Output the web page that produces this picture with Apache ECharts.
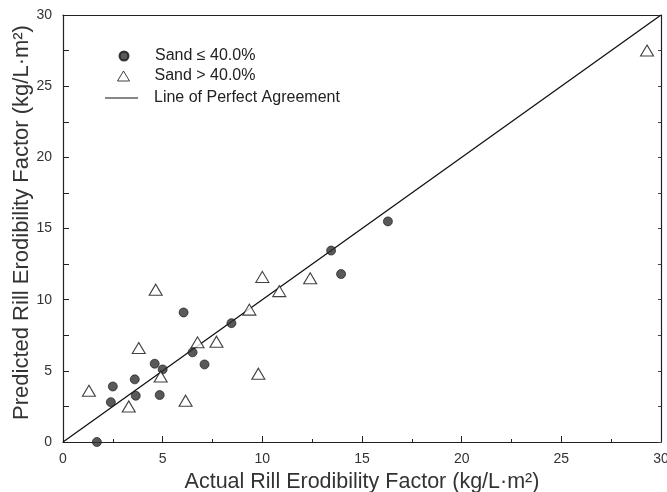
<!DOCTYPE html>
<html>
<head>
<meta charset="utf-8">
<script src="https://cdn.jsdelivr.net/npm/echarts@6/dist/echarts.min.js"></script>
<style>
html,body{margin:0;padding:0;background:#fff;}
#chart{width:667px;height:492px;}
</style>
</head>
<body>
<div id="chart"></div>
<script>
// Sand <= 40.0% (filled circles)
const sandLowX = [1.7, 2.4, 2.5, 3.6, 3.65, 4.6, 5.0, 4.85, 6.05, 6.5, 7.1, 8.45, 13.45, 13.95, 16.3];
const sandLowY = [0.0, 2.8, 3.9, 4.4, 3.25, 5.5, 5.1, 3.3, 9.1, 6.3, 5.45, 8.35, 13.45, 11.8, 15.5];
// Sand > 40.0% (open triangles)
const sandHighX = [1.3, 3.3, 3.8, 4.65, 4.9, 6.15, 6.75, 7.7, 9.35, 9.8, 10.0, 10.85, 12.4, 29.3];
const sandHighY = [3.6, 2.5, 6.6, 10.7, 4.6, 2.9, 7.0, 7.05, 9.3, 4.8, 11.6, 10.6, 11.5, 27.5];
// Line of perfect agreement
const lineX = [0, 30];
const lineY = [0, 30];
const ticks = [0, 5, 10, 15, 20, 25, 30];

const seriesNames = ['Sand \u2264 40.0%', 'Sand > 40.0%', 'Line of Perfect Agreement'];
const xTitle = 'Actual Rill Erodibility Factor (kg/L\u00b7m\u00b2)';
const yTitle = 'Predicted Rill Erodibility Factor (kg/L\u00b7m\u00b2)';

const zip = (a, b) => a.map((v, i) => [v, b[i]]);
const FONT = '"Liberation Sans", Arial, Helvetica, sans-serif';

const chart = echarts.init(document.getElementById('chart'), null, {renderer: 'canvas'});

const baseAxis = {
  min: ticks[0], max: ticks[ticks.length - 1], interval: 5,
  axisLine: {show: true, onZero: false, lineStyle: {color: '#222', width: 1.2}},
  splitLine: {show: false}
};

chart.setOption({
  backgroundColor: '#fff',
  animation: false,
  grid: {left: 63, right: 6, top: 15, bottom: 50, containLabel: false, outerBoundsMode: 'none'},
  legend: [
    {data: [{name: seriesNames[0], icon: 'circle'}], left: 118.5, top: 48, padding: 0, itemWidth: 9, itemHeight: 9,
     textStyle: {fontFamily: FONT, fontSize: 16, color: '#222', padding: [0, 0, 0, 21.5]}},
    {data: [{name: seriesNames[1], icon: 'triangle', itemStyle: {borderWidth: 1}}], left: 117, top: 68, padding: 0, itemWidth: 12, itemHeight: 10,
     textStyle: {fontFamily: FONT, fontSize: 16, color: '#222', padding: [0, 0, 0, 20]}},
    {data: [{name: seriesNames[2], icon: 'rect'}], left: 105, top: 90, padding: 0, itemWidth: 33, itemHeight: 1.2,
     textStyle: {fontFamily: FONT, fontSize: 16, color: '#222', padding: [0, 0, 0, 11]}}
  ],
  xAxis: [
    Object.assign({}, baseAxis, {
      type: 'value', position: 'bottom',
      name: xTitle, nameLocation: 'middle', nameGap: 29, nameMoveOverlap: false,
      nameTextStyle: {fontFamily: FONT, fontSize: 21.5, color: '#333'},
      axisTick: {show: true, inside: true, length: 6, lineStyle: {color: '#222'}},
      minorTick: {show: true, splitNumber: 2, length: 3, lineStyle: {color: '#222'}},
      axisLabel: {show: true, margin: 10, fontFamily: FONT, fontSize: 14, color: '#333'}
    }),
    Object.assign({}, baseAxis, {
      type: 'value', position: 'top',
      axisTick: {show: false}, axisLabel: {show: false}
    })
  ],
  yAxis: [
    Object.assign({}, baseAxis, {
      type: 'value', position: 'left',
      name: yTitle, nameLocation: 'middle', nameGap: 30, nameMoveOverlap: false,
      nameTextStyle: {fontFamily: FONT, fontSize: 22, color: '#333', padding: [0, 0, 0, 12]},
      axisTick: {show: true, inside: true, length: 6, lineStyle: {color: '#222'}},
      minorTick: {show: true, splitNumber: 2, length: 6, lineStyle: {color: '#222'}},
      axisLabel: {show: true, margin: 11, fontFamily: FONT, fontSize: 14, color: '#333'}
    }),
    Object.assign({}, baseAxis, {
      type: 'value', position: 'right',
      axisTick: {show: true, inside: true, length: 3, lineStyle: {color: '#444'}},
      minorTick: {show: true, splitNumber: 2, length: 3, lineStyle: {color: '#444'}},
      axisLabel: {show: false}
    })
  ],
  series: [
    {
      name: seriesNames[2], type: 'line', data: zip(lineX, lineY),
      symbol: 'none', z: 1,
      lineStyle: {color: '#111', width: 1.3},
      itemStyle: {color: '#111'}
    },
    {
      name: seriesNames[0], type: 'scatter', data: zip(sandLowX, sandLowY),
      symbol: 'circle', symbolSize: 9, z: 3,
      itemStyle: {color: '#303030', borderColor: '#111', borderWidth: 0.8}
    },
    {
      name: seriesNames[1], type: 'scatter', data: zip(sandHighX, sandHighY),
      symbol: 'triangle', symbolSize: [13, 11], z: 3,
      itemStyle: {color: '#fff', borderColor: '#111', borderWidth: 1.1}
    }
  ]
});
</script>
</body>
</html>
